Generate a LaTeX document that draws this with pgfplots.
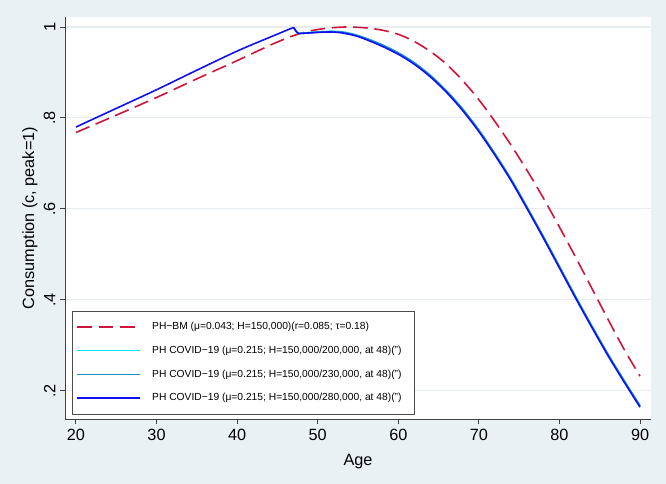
\documentclass[border=0pt]{standalone}
\usepackage{pgfplots}
\pgfplotsset{compat=1.18}
\usepackage{fontspec}
\setmainfont{Liberation Sans}
\definecolor{bgc}{RGB}{233,241,244}
\definecolor{gridc}{RGB}{230,238,242}
\definecolor{redc}{RGB}{208,20,60}
\definecolor{cyanc}{RGB}{0,228,238}
\definecolor{midc}{RGB}{30,140,200}
\definecolor{bluec}{RGB}{16,16,240}
\pgfplotstableread{
x y
20 0.768
25 0.806
30 0.845
35 0.886
40 0.926
43 0.951
45 0.967
47 0.981
49 0.991
51 0.997
53.5 1.000
56 0.998
58 0.993
60 0.984
62 0.968
64 0.946
66 0.918
68 0.882
70 0.840
72 0.792
74 0.740
76 0.684
78 0.624
80 0.560
82 0.494
84 0.426
86 0.358
88 0.292
90 0.232
}\bm
\pgfplotstableread{
x y
20 0.780
25 0.821
30 0.862
35 0.905
40 0.947
44 0.977
47 0.999
}\rise
\pgfplotstableread{
x y
47 0.999
47.5 0.987
48 0.986
50 0.988
51.5 0.989
53 0.987
55 0.979
57.7 0.960
60 0.940
62 0.918
64 0.890
66 0.856
68 0.816
70 0.770
72 0.718
74 0.662
76 0.600
78 0.536
80 0.470
82 0.404
84 0.340
86 0.278
88 0.220
90 0.164
}\covb
\pgfplotstableread{
x y
47 0.999
47.5 0.987
48 0.986
50 0.989
51.5 0.990
53 0.989
55 0.981
57.7 0.963
60 0.943
62 0.921
64 0.893
66 0.859
68 0.819
70 0.773
72 0.721
74 0.665
76 0.603
78 0.539
80 0.473
82 0.407
84 0.343
86 0.281
88 0.223
90 0.167
}\covc
\begin{document}
\begin{tikzpicture}[x=0.75pt,y=0.75pt]
\fill[bgc] (0,0) rectangle (666,484);
\useasboundingbox (0,0) rectangle (666,484);
\begin{axis}[
  at={(48.75pt,48.75pt)}, anchor=south west,
  scale only axis, width=439.5pt, height=301.5pt,
  xmin=18.64, xmax=91.36, ymin=0.138, ymax=1.022,
  axis background/.style={fill=white},
  axis x line*=bottom, axis y line*=left,
  axis line style={black!75, line width=0.7pt},
  every outer x axis line/.append style={-}, every outer y axis line/.append style={-},
  xtick={20,30,...,90},
  ytick={0.2,0.4,0.6,0.8,1},
  yticklabels={.2,.4,.6,.8,1},
  tick align=outside, major tick length=3.75pt,
  tick style={black!75, line width=0.7pt},
  ymajorgrids, grid style={gridc, line width=0.8pt},
  /pgf/number format/assume math mode=true,
  ticklabel style={font=\fontsize{12.2}{14}\selectfont},
  yticklabel style={rotate=90, anchor=south},
  xlabel={Age}, ylabel={Consumption (c, peak=1)},
  label style={font=\fontsize{12.2}{14}\selectfont},
  xlabel style={at={(axis description cs:0.5,-0.107)}, anchor=center},
  ylabel style={at={(axis description cs:-0.0597,0.5)}, anchor=center, rotate=0},
  legend cell align=left,
  legend style={at={(0.012,0.0124)}, anchor=south west, draw=black!70, line width=0.6pt, fill=white,
    outer sep=0pt,
    font=\fontsize{7.7}{9}\selectfont, inner xsep=3.5pt, inner ysep=7.3pt, row sep=8.6pt,
    nodes={inner sep=1pt, text height=5.6pt, text depth=1.6pt}},
  legend image code/.code={\draw[#1, line width=1.1pt] (0pt,0pt) -- (47pt,0pt); \path (54.5pt,0pt);},
]
\addplot[redc, line width=1.2pt, dash pattern=on 11pt off 5pt, smooth, tension=0.5] table {\bm};
\addlegendentry{PH−BM (μ=0.043; H=150,000)(r=0.085; τ=0.18)\hspace*{5pt}}
\addplot[cyanc, line width=1.2pt, smooth, tension=0.5] table {\covc};
\addlegendentry{PH COVID−19 (μ=0.215; H=150,000/200,000, at 48)("{})\hspace*{5pt}}
\addplot[midc, line width=1.2pt, smooth, tension=0.5] table {\covc};
\addlegendentry{PH COVID−19 (μ=0.215; H=150,000/230,000, at 48)("{})\hspace*{5pt}}
\addplot[bluec, line width=1.2pt, smooth, tension=0.5] table {\covb};
\addlegendentry{PH COVID−19 (μ=0.215; H=150,000/280,000, at 48)("{})\hspace*{5pt}}
\addplot[bluec, line width=1.2pt, smooth, tension=0.5, forget plot] table {\rise};
\end{axis}
\end{tikzpicture}
\end{document}
